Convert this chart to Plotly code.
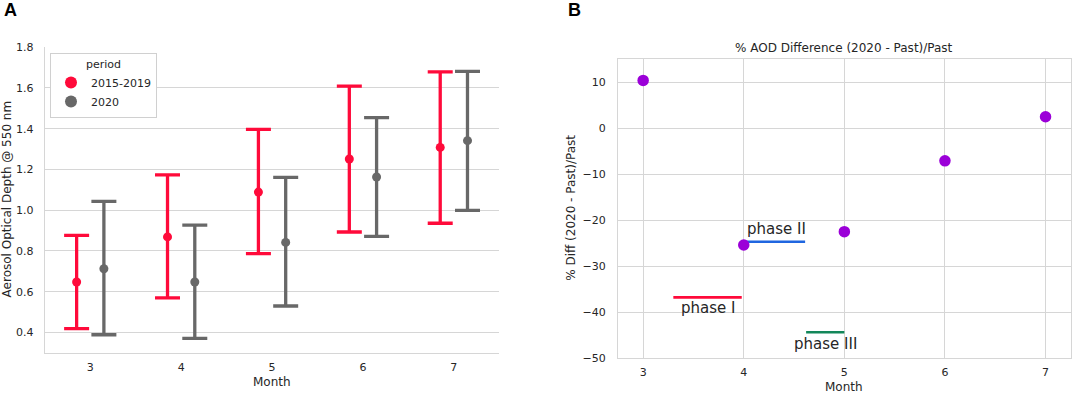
import plotly.graph_objects as go

# ---------------- data ----------------
months = [3, 4, 5, 6, 7]

past_mean = [0.648, 0.869, 1.089, 1.251, 1.308]
past_low = [0.419, 0.570, 0.787, 0.893, 0.936]
past_high = [0.877, 1.173, 1.396, 1.609, 1.679]

cur_mean = [0.713, 0.648, 0.842, 1.163, 1.341]
cur_low = [0.389, 0.371, 0.530, 0.872, 0.999]
cur_high = [1.043, 0.927, 1.161, 1.454, 1.681]

period_names = ["2015-2019", "2020"]

pct_diff = [10.4, -25.4, -22.5, -7.1, 2.5]

phase_names = ["phase I", "phase II", "phase III"]
phase_start = [3.30, 4.00, 4.62]
phase_end = [3.98, 4.61, 5.00]
phase_level = [-36.8, -24.7, -44.4]
phase_label_x = [3.64, 4.015, 4.81]
phase_label_y = [-39.2, -22.0, -47.0]

# ---------------- styles ----------------
W, H = 1072, 393
RED = "#ff0a3a"
GRAY = "#686868"
PURPLE = "#9b00d8"
PHASE_COLORS = ["#ff0a3a", "#1f66e0", "#13875a"]
GRID = "#d6d6d6"
TXT = "#262626"
FONT = "DejaVu Sans"
DODGE = 0.15


def px_x(p):
    return p / W


def px_y(p):
    return 1 - p / H


fig = go.Figure()

# Panel A: point estimates with error bars
for name, mean, low, high, color, off in [
    (period_names[0], past_mean, past_low, past_high, RED, -DODGE),
    (period_names[1], cur_mean, cur_low, cur_high, GRAY, DODGE),
]:
    fig.add_trace(go.Scatter(
        x=[m + off for m in months], y=mean, mode="markers", name=name,
        marker=dict(color=color, size=9),
        error_y=dict(type="data", symmetric=False,
                     array=[h - m for h, m in zip(high, mean)],
                     arrayminus=[m - l for m, l in zip(mean, low)],
                     color=color, thickness=3.3, width=12.5),
        xaxis="x", yaxis="y", showlegend=True,
    ))

# Panel B: phase lines
for name, s, e, lvl, c in zip(phase_names, phase_start, phase_end, phase_level, PHASE_COLORS):
    fig.add_trace(go.Scatter(
        x=[s, e], y=[lvl, lvl], mode="lines", line=dict(color=c, width=2.6),
        xaxis="x2", yaxis="y2", showlegend=False, hoverinfo="skip",
    ))

# Panel B: percent difference points
fig.add_trace(go.Scatter(
    x=months, y=pct_diff, mode="markers",
    marker=dict(color=PURPLE, size=11.5),
    xaxis="x2", yaxis="y2", showlegend=False,
))

tickfont = dict(family=FONT, size=11, color=TXT)

fig.update_layout(
    template="none",
    width=W, height=H,
    margin=dict(l=0, r=0, t=0, b=0, pad=0),
    paper_bgcolor="white", plot_bgcolor="white",
    font=dict(family=FONT, size=11, color=TXT),
    xaxis=dict(
        domain=[px_x(44.8), px_x(499.3)], range=[2.5, 7.5],
        tickvals=months, ticktext=[str(m) for m in months],
        showgrid=False, zeroline=False, showline=True, linecolor=GRID, linewidth=1.3,
        ticks="", tickfont=tickfont, ticklabelstandoff=4, anchor="y", automargin=False,
    ),
    yaxis=dict(
        domain=[px_y(352.5), px_y(46.5)], range=[0.302, 1.803],
        tick0=0.4, dtick=0.2, tickformat=".1f",
        showgrid=True, gridcolor=GRID, gridwidth=1.2, zeroline=False,
        showline=True, linecolor=GRID, linewidth=1.3,
        ticks="", tickfont=tickfont, ticklabelstandoff=8, anchor="x", automargin=False,
    ),
    xaxis2=dict(
        domain=[px_x(618), px_x(1070.7)], range=[2.75, 7.25],
        tick0=3, dtick=1,
        showgrid=True, gridcolor=GRID, gridwidth=1.2, zeroline=False,
        showline=True, mirror=True, linecolor=GRID, linewidth=1.3,
        ticks="", tickfont=tickfont, ticklabelstandoff=4, anchor="y2", automargin=False,
    ),
    yaxis2=dict(
        domain=[px_y(358), px_y(59.3)], range=[-50, 15],
        tick0=0, dtick=10,
        showgrid=True, gridcolor=GRID, gridwidth=1.2, zeroline=False,
        showline=True, mirror=True, linecolor=GRID, linewidth=1.3,
        ticks="", tickfont=tickfont, ticklabelstandoff=9, anchor="x2", automargin=False,
    ),
    legend=dict(
        x=px_x(50), y=px_y(52.7), xanchor="left", yanchor="top",
        bgcolor="white", bordercolor="#d0d0d0", borderwidth=1,
        font=dict(family=FONT, size=11, color=TXT),
        title=dict(text="period", side="top center", font=dict(family=FONT, size=11, color=TXT)),
        itemsizing="constant",
    ),
    showlegend=True,
)


def ann(text, x, y, size=12, angle=0, family=FONT, color=TXT):
    return dict(text=text, x=px_x(x), y=px_y(y), xref="paper", yref="paper",
                xanchor="center", yanchor="middle", textangle=angle, showarrow=False,
                font=dict(family=family, size=size, color=color))


annotations = [
    ann("<b>A</b>", 10, 10, size=18, family="Liberation Sans", color="black"),
    ann("<b>B</b>", 574.5, 10, size=18, family="Liberation Sans", color="black"),
    ann("Aerosol Optical Depth @ 550 nm", 7, 199.4, angle=-90),
    ann("Month", 272, 382.3),
    ann("% AOD Difference (2020 - Past)/Past", 844.4, 48.3),
    ann("% Diff (2020 - Past)/Past", 571.5, 208.3, angle=-90),
    ann("Month", 844.4, 386.5),
]
for name, lx, ly, anchor in zip(phase_names, phase_label_x, phase_label_y, ["center", "left", "center"]):
    annotations.append(dict(text=name, x=lx, y=ly, xref="x2", yref="y2", xanchor=anchor,
                            yanchor="middle", showarrow=False,
                            font=dict(family=FONT, size=15, color=TXT)))
fig.update_layout(annotations=annotations)

fig.write_html(
    "out.html",
    config={"displayModeBar": False},
    post_script="document.body.style.margin='0';document.body.style.overflow='hidden';",
)
